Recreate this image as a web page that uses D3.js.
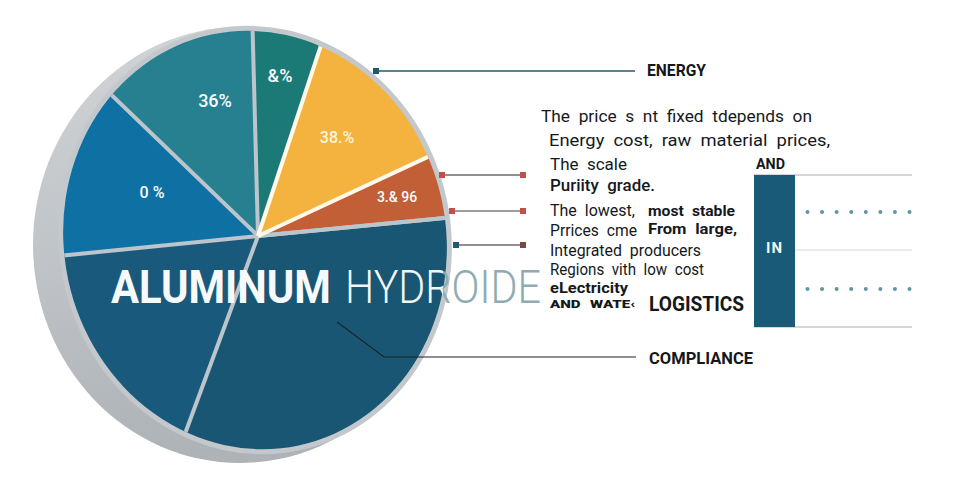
<!DOCTYPE html>
<html>
<head>
<meta charset="utf-8">
<script src="https://cdn.jsdelivr.net/npm/d3@7"></script>
<style>
  html, body { margin: 0; padding: 0; background: #fff; }
  svg { display: block; }
  text { font-family: Roboto, "Noto Sans", sans-serif; }
</style>
</head>
<body>
<div id="chart"></div>
<script>
// slices clockwise from just left of 12 o'clock
const sliceNames = ['dark teal', 'yellow', 'orange', 'large navy', 'left navy', 'blue', 'teal'];
const sliceValues = [5.5, 13, 5.4, 32.2, 17.8, 13.8, 12.4];
const sliceLabels = ['&%', '38.%', '3.& 96', '', '', '0 %', '36%'];

const titleBold = 'ALUMINUM';
const titleLight = 'HYDROIDE';

const leaderNames = ['ENERGY', 'LOGISTICS', 'COMPLIANCE'];
const tableHeader = 'AND';
const tableRowLabel = 'IN';
const dotColumns = [1, 2, 3, 4, 5, 6, 7, 8];
const dotRows = ['top', 'bottom'];

const noteLines = [
  'The price s nt fixed tdepends on',
  'Energy cost, raw material prices,',
  'The scale',
  'Puriity grade.',
  'The lowest,',
  'most stable',
  'Prrices cme',
  'From large,',
  'Integrated producers',
  'Regions vith low cost',
  'eLectricity',
  'AND WATE\u2039'
];

const width = 960, height = 480;
const hub = { x: 258, y: 236 };
const START_DEG = -1.5;
const TILT = 'rotate(-12 255 240)';
const COLORS = ['#1b7a76', '#f4b23f', '#c35f36', '#195674', '#195a7c', '#0e70a3', '#26808f'];
const SEPARATORS = ['#bcc5cb', '#fff9ec', '#fff9ec', '#bcc5cb', '#bcc5cb', '#bcc5cb', '#bcc5cb'];
const rad = d => d * Math.PI / 180;

const svg = d3.select('#chart').append('svg')
  .attr('width', width)
  .attr('height', height);

const defs = svg.append('defs');

const sideGrad = defs.append('linearGradient').attr('id', 'side')
  .attr('x1', 0).attr('x2', 0.2).attr('y1', 0).attr('y2', 1);
sideGrad.append('stop').attr('offset', '0%').attr('stop-color', '#d3d5d7');
sideGrad.append('stop').attr('offset', '100%').attr('stop-color', '#aeb3b8');

defs.append('clipPath').attr('id', 'face')
  .append('ellipse').attr('cx', 255).attr('cy', 240).attr('rx', 191).attr('ry', 210).attr('transform', TILT);

// the light half of the title turns grey where it leaves the pie
const titleFill = defs.append('linearGradient').attr('id', 'titleFill')
  .attr('x1', 0).attr('x2', 1).attr('y1', 0).attr('y2', 0);
[[0, '#f2f6f7'], [0.5, '#f2f6f7'], [0.5, '#8fabb1'], [1, '#8fabb1']].forEach(s => {
  titleFill.append('stop').attr('offset', s[0]).attr('stop-color', s[1]);
});

// Disc body and rim
svg.append('ellipse').attr('cx', 240).attr('cy', 245).attr('rx', 207).attr('ry', 218).attr('fill', 'url(#side)');
svg.append('ellipse').attr('cx', 255).attr('cy', 240).attr('rx', 196).attr('ry', 215).attr('transform', TILT).attr('fill', '#c3c8cc');

const pie = d3.pie().sort(null).value(d => d)
  .startAngle(rad(START_DEG))
  .endAngle(rad(START_DEG + 360));
const slices = pie(sliceValues);
const arc = d3.arc().innerRadius(0).outerRadius(300);

// Wedges run long from the off-centre hub and get cut by the elliptical face
const face = svg.append('g').attr('clip-path', 'url(#face)');
const wedges = face.append('g').attr('transform', `translate(${hub.x},${hub.y})`);

wedges.selectAll('path')
  .data(slices)
  .join('path')
  .attr('d', arc)
  .attr('fill', (d, i) => COLORS[i])
  .attr('data-name', (d, i) => sliceNames[i]);

// Separators drawn at each slice start, grey first so the pale ones sit on top
const sepOrder = slices.map((d, i) => ({ angle: d.startAngle, color: SEPARATORS[i] }));
sepOrder.push({ angle: slices[2].endAngle, color: '#bcc5cb' });
wedges.selectAll('line')
  .data(sepOrder.sort((a, b) => d3.ascending(a.color === '#fff9ec', b.color === '#fff9ec')))
  .join('line')
  .attr('x2', d => d3.pointRadial(d.angle, 300)[0])
  .attr('y2', d => d3.pointRadial(d.angle, 300)[1])
  .attr('stroke', d => d.color)
  .attr('stroke-width', 4);

// Slice labels
const labelSpots = [[280, 76, 18], [337, 137, 16], [397, 197, 14], [0, 0, 0], [0, 0, 0], [152, 192, 16], [215, 101, 18]];
svg.append('g').selectAll('text')
  .data(sliceLabels.map((t, i) => ({ t, spot: labelSpots[i], i })).filter(d => d.t))
  .join('text')
  .attr('x', d => d.spot[0])
  .attr('y', d => d.spot[1])
  .attr('dy', '0.35em')
  .attr('text-anchor', 'middle')
  .attr('fill', d => d.i === 1 ? '#fff6dc' : '#f6fbfc')
  .attr('font-size', d => d.spot[2])
  .attr('font-weight', 500)
  .text(d => d.t);

// Compliance leader sits over the face
const leaderLine = d3.line();
svg.append('path')
  .attr('d', leaderLine([[337, 322], [384, 357], [636, 357]]))
  .attr('fill', 'none')
  .attr('stroke', '#1b2227')
  .attr('stroke-width', 1.1);

// Title: squeezed with a transform so its real box ends where the glyphs do
const titleY = 303;
function titlePart(str, x, w, weight, fill) {
  const t = svg.append('text')
    .attr('fill', fill)
    .attr('font-size', 46)
    .attr('font-weight', weight)
    .text(str);
  const sx = w / t.node().getComputedTextLength();
  t.attr('transform', `translate(${x},${titleY}) scale(${sx},1)`);
}
titlePart(titleBold, 111, 220, 700, '#f7fafb');
titlePart(titleLight, 345, 196, 300, 'url(#titleFill)');

// Short connectors with square ends
const connectors = [
  { x1: 376, x2: 635, y: 71, c: '#1f5a73', a: '#1f5a73', b: null, w: 1.3 },
  { x1: 442, x2: 523, y: 175, c: '#6b6b6b', a: '#c0504a', b: '#c0504a', w: 1.6 },
  { x1: 452, x2: 523, y: 211, c: '#7d7b7a', a: '#c0504a', b: '#c0504a', w: 1.6 },
  { x1: 456, x2: 523, y: 245, c: '#6b6b6b', a: '#1f5a73', b: '#7a4a42', w: 1.6 }
];
const connG = svg.append('g');
connG.selectAll('line')
  .data(connectors)
  .join('line')
  .attr('x1', d => d.x1).attr('x2', d => d.x2)
  .attr('y1', d => d.y).attr('y2', d => d.y)
  .attr('stroke', d => d.c)
  .attr('stroke-width', d => d.w);
connG.selectAll('rect.start')
  .data(connectors)
  .join('rect')
  .attr('class', 'start')
  .attr('x', d => d.x1 - 3).attr('y', d => d.y - 3)
  .attr('width', 6).attr('height', 6)
  .attr('fill', d => d.a);
connG.selectAll('rect.end')
  .data(connectors.filter(d => d.b))
  .join('rect')
  .attr('class', 'end')
  .attr('x', d => d.x2 - 3).attr('y', d => d.y - 3)
  .attr('width', 6).attr('height', 6)
  .attr('fill', d => d.b);

// Headings on the right
const headingSpots = [[647, 70, 59, 17], [649, 304, 95, 20], [649, 358, 104, 17]];
svg.append('g').selectAll('text')
  .data(leaderNames)
  .join('text')
  .attr('x', (d, i) => headingSpots[i][0])
  .attr('y', (d, i) => headingSpots[i][1])
  .attr('dy', '0.35em')
  .attr('textLength', (d, i) => headingSpots[i][2])
  .attr('lengthAdjust', 'spacingAndGlyphs')
  .attr('font-size', (d, i) => headingSpots[i][3])
  .attr('font-weight', 700)
  .attr('fill', '#14181b')
  .text(d => d);

// Body copy: x, centre y, width, size, weight for each entry of noteLines
const noteLayout = [
  [541, 116, 271, 16, 400],
  [549, 140, 281, 16, 400],
  [550, 164, 77, 16, 400],
  [550, 185, 105, 16, 500],
  [550, 210, 85, 16, 400],
  [648, 211, 87, 14.5, 700],
  [550, 230, 87, 16, 400],
  [648, 229, 89, 14.5, 700],
  [550, 250, 151, 16, 400],
  [550, 269, 154, 16, 400],
  [550, 288, 78, 14, 700],
  [550, 304, 85, 10.5, 900]
];
svg.append('g').selectAll('text')
  .data(noteLines)
  .join('text')
  .attr('x', (d, i) => noteLayout[i][0])
  .attr('y', (d, i) => noteLayout[i][1])
  .attr('dy', '0.35em')
  .attr('textLength', (d, i) => noteLayout[i][2])
  .attr('lengthAdjust', 'spacingAndGlyphs')
  .attr('word-spacing', 4)
  .attr('font-size', (d, i) => noteLayout[i][3])
  .attr('font-weight', (d, i) => noteLayout[i][4])
  .attr('fill', '#15191c')
  .text(d => d);

// Small table at the far right
const table = { x: 754, right: 912, band: 795 };
const rowScale = d3.scalePoint().domain(dotRows).range([212, 289]);
const colScale = d3.scalePoint().domain(dotColumns).range([807.5, 909.5]);

svg.append('g').selectAll('line')
  .data([175, 250, 327])
  .join('line')
  .attr('x1', table.x).attr('x2', table.right)
  .attr('y1', d => d).attr('y2', d => d)
  .attr('stroke', (d, i) => i === 1 ? '#d0d4d6' : '#a9aeb1')
  .attr('stroke-width', 1);

svg.append('rect')
  .attr('x', table.x).attr('y', 175)
  .attr('width', table.band - table.x).attr('height', 152)
  .attr('fill', '#195a78');

svg.append('text')
  .attr('x', (table.x + table.band) / 2).attr('y', 248)
  .attr('dy', '0.35em')
  .attr('text-anchor', 'middle')
  .attr('font-size', 15)
  .attr('font-weight', 700)
  .attr('letter-spacing', 1)
  .attr('fill', '#f2f6f7')
  .text(tableRowLabel);

svg.append('text')
  .attr('x', 756).attr('y', 164)
  .attr('dy', '0.35em')
  .attr('textLength', 29)
  .attr('lengthAdjust', 'spacingAndGlyphs')
  .attr('font-size', 14)
  .attr('font-weight', 700)
  .attr('fill', '#14181b')
  .text(tableHeader);

svg.append('g').selectAll('circle')
  .data(d3.cross(dotRows, dotColumns))
  .join('circle')
  .attr('cx', d => colScale(d[1]))
  .attr('cy', d => rowScale(d[0]))
  .attr('r', 2)
  .attr('fill', '#5f96a3');
</script>
</body>
</html>
